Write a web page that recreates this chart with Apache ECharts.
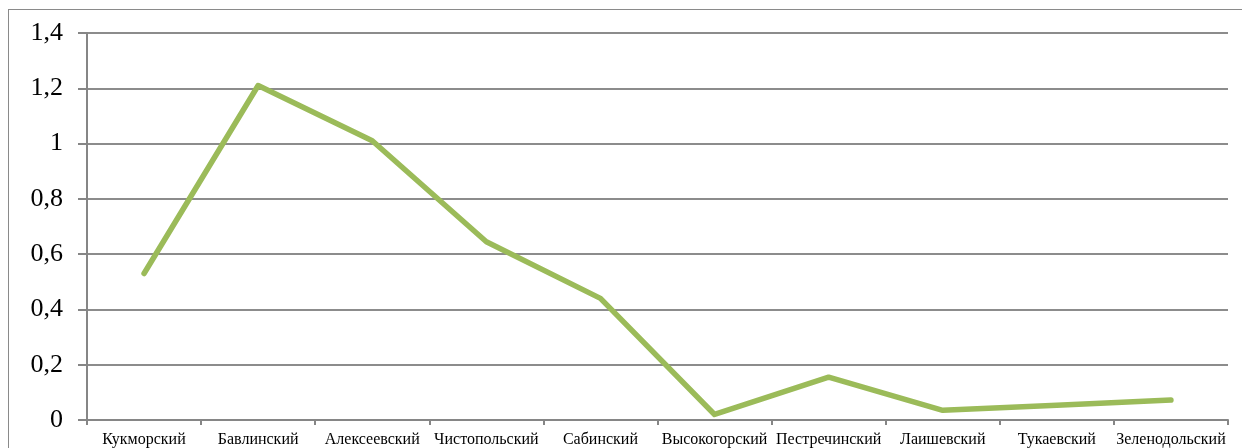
<!DOCTYPE html>
<html><head><meta charset="utf-8">
<script src="https://cdn.jsdelivr.net/npm/echarts@6/dist/echarts.min.js"></script>
<style>
html,body{margin:0;padding:0;background:#fff;}
#frame{position:absolute;left:8px;top:9px;width:1240px;height:450px;border:1px solid #8a8a8a;box-sizing:border-box;}
#c{position:absolute;left:0;top:0;width:1242px;height:448px;}
</style></head>
<body>
<div id="frame"></div>
<div id="c"></div>
<script>
const categories = ["Кукморский","Бавлинский","Алексеевский","Чистопольский","Сабинский","Высокогорский","Пестречинский","Лаишевский","Тукаевский","Зеленодольский"];
const values = [0.53, 1.21, 1.01, 0.645, 0.44, 0.02, 0.155, 0.035, 0.053, 0.072];
const yMin = 0, yMax = 1.4, yStep = 0.2;

const chart = echarts.init(document.getElementById('c'), null, {renderer:'canvas'});
chart.setOption({
  animation:false,
  backgroundColor:'transparent',
  grid:{left:87,right:14,top:33,bottom:27,containLabel:false},
  xAxis:{
    type:'category', data:categories, boundaryGap:true,
    axisLine:{show:true,lineStyle:{color:'#868686',width:2}},
    axisTick:{show:true,length:5,interval:0,lineStyle:{color:'#868686',width:2}},
    axisLabel:{interval:0,margin:12,color:'#000',fontFamily:'Liberation Serif',fontSize:16}
  },
  yAxis:{
    type:'value', min:yMin, max:yMax, interval:yStep,
    axisLine:{show:true,lineStyle:{color:'#868686',width:2}},
    axisTick:{show:true,length:9,lineStyle:{color:'#868686',width:2}},
    splitLine:{show:true,lineStyle:{color:'#8c8c8c',width:2}},
    axisLabel:{margin:24,color:'#000',fontFamily:'Liberation Serif',fontSize:26,
      formatter:v=>String(Math.round(v*10)/10).replace('.',',')}
  },
  series:[{
    type:'line', data:values, symbol:'none',
    lineStyle:{color:'#9BBB59',width:5.5,join:'round',cap:'round'}
  }]
});
</script>
</body></html>
